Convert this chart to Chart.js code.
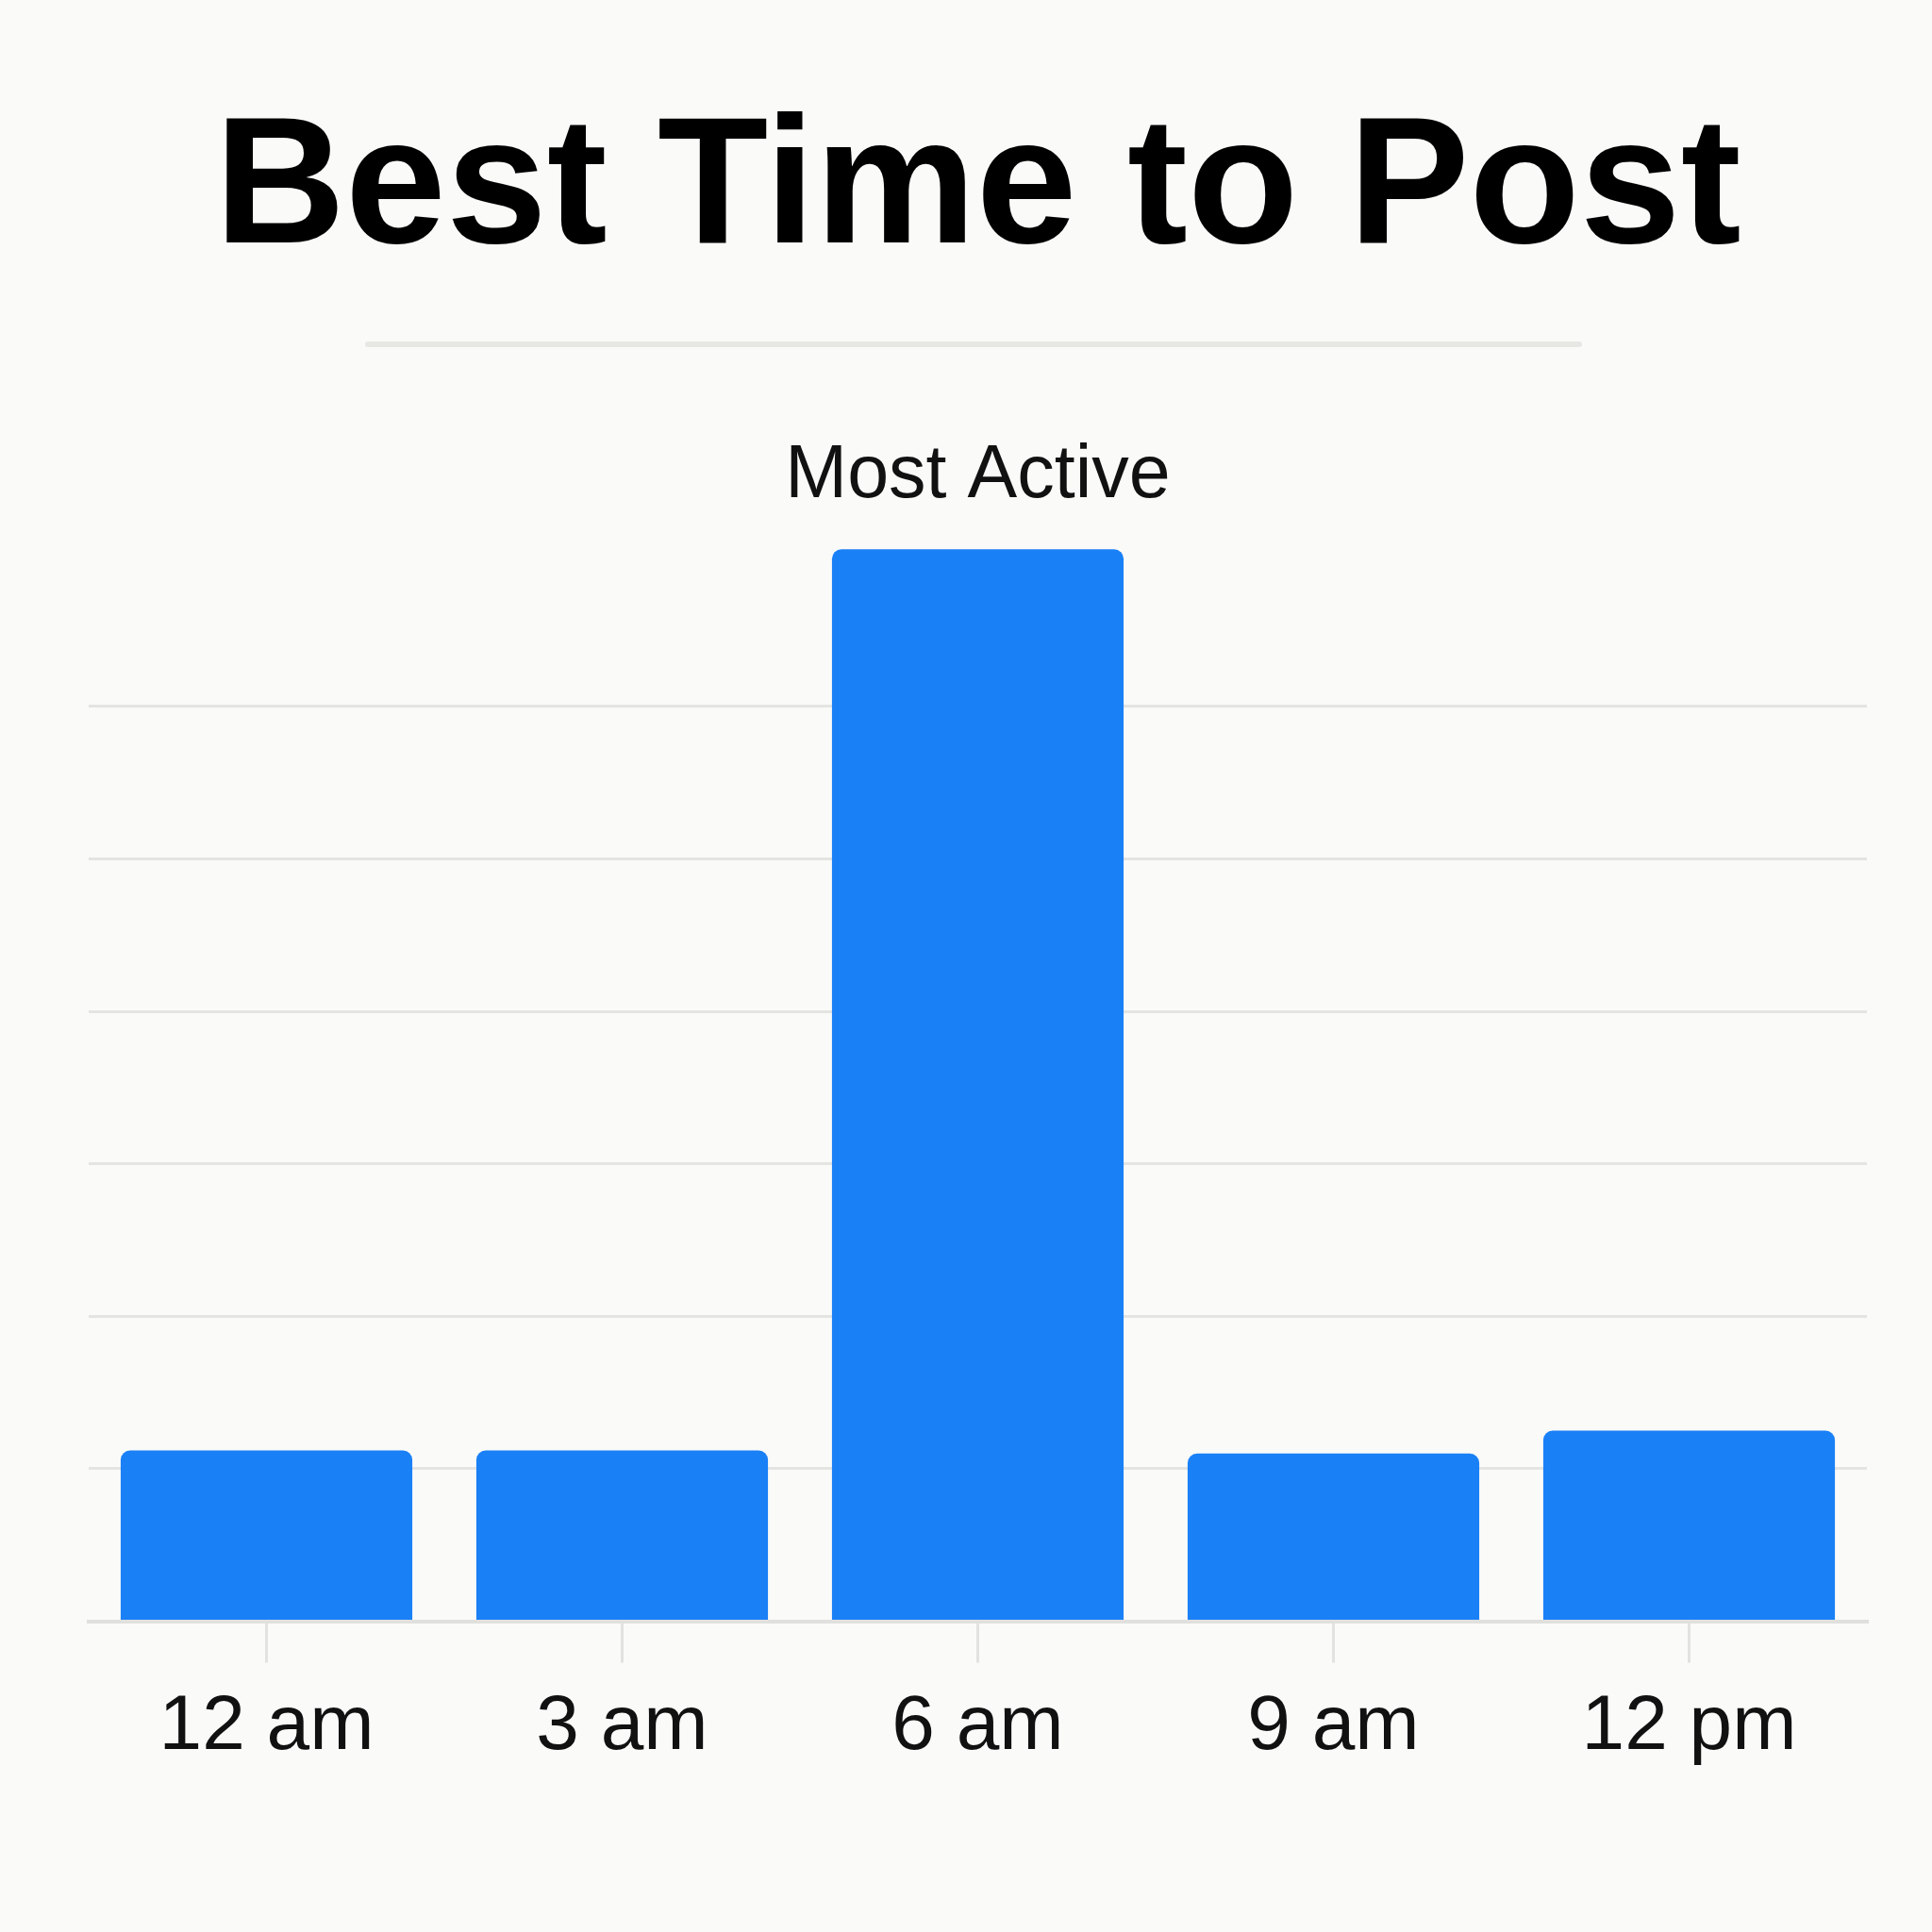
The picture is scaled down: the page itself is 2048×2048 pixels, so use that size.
<!DOCTYPE html>
<html>
<head>
<meta charset="utf-8">
<script src="https://cdn.jsdelivr.net/npm/chart.js@4.4.0/dist/chart.umd.min.js"></script>
<style>
  html, body { margin: 0; padding: 0; background: #fafaf8; }
  #wrap { width: 2048px; height: 2048px; }
</style>
</head>
<body>
<div id="wrap"><canvas id="postChart" width="2048" height="2048"></canvas></div>
<script>
// dados do gráfico
const hours = ['12 am', '3 am', '6 am', '9 am', '12 pm'];
const activity = [1.12, 1.12, 7.03, 1.1, 1.25];
const gridMax = 6;          // last gridline drawn
const chartTitle = 'Best Time to Post';
const peakLabel = 'Most Active';

const FONT = '"Liberation Sans", Arial, Helvetica, sans-serif';

// separator line under the title + label above the tallest bar
const extras = {
    id: 'extras',
    afterDraw(chart) {
        const ctx = chart.ctx;
        ctx.save();
        ctx.strokeStyle = '#e7e7e4';
        ctx.lineWidth = 6;
        ctx.lineCap = 'round';
        ctx.beginPath();
        ctx.moveTo(390, 365);
        ctx.lineTo(1674, 365);
        ctx.stroke();

        const peak = activity.indexOf(Math.max(...activity));
        const bar = chart.getDatasetMeta(0).data[peak];
        ctx.fillStyle = '#111111';
        ctx.font = '79px ' + FONT;
        ctx.textAlign = 'center';
        ctx.textBaseline = 'alphabetic';
        ctx.fillText(peakLabel, bar.x, bar.y - 55);
        ctx.restore();
    }
};

const ctx = document.getElementById('postChart').getContext('2d');
const postChart = new Chart(ctx, {
    type: 'bar',
    data: {
        labels: hours,
        datasets: [{
            label: 'Activity',
            data: activity,
            backgroundColor: '#1a80f6',
            borderRadius: { topLeft: 10, topRight: 10, bottomLeft: 0, bottomRight: 0 },
            borderSkipped: 'bottom',
            categoryPercentage: 0.82,
            barPercentage: 1
        }]
    },
    options: {
        responsive: false,
        animation: false,
        devicePixelRatio: 1,
        layout: {
            padding: { top: 0, left: 94, right: 69, bottom: 147 }
        },
        plugins: {
            legend: { display: false },
            tooltip: { enabled: false },
            title: {
                display: true,
                text: chartTitle,
                color: '#000000',
                font: { family: FONT, size: 192, weight: 'bold', lineHeight: 1.2 },
                padding: { top: 89, bottom: 187 }
            }
        },
        scales: {
            x: {
                offset: true,
                grid: {
                    offset: false,
                    drawOnChartArea: false,
                    drawTicks: true,
                    tickLength: 44,
                    color: '#e2e2e0',
                    lineWidth: 3
                },
                border: { display: true, color: '#e0e0de', width: 4 },
                ticks: {
                    color: '#111111',
                    padding: 20,
                    font: { family: FONT, size: 82, lineHeight: 1.2 }
                }
            },
            y: {
                min: 0,
                max: 7.5,
                ticks: { display: false, stepSize: 1 },
                border: { display: false },
                grid: {
                    drawTicks: false,
                    lineWidth: 3,
                    color: (c) => (c.tick && c.tick.value > 0 && c.tick.value <= gridMax) ? '#e4e4e2' : 'rgba(0,0,0,0)'
                }
            }
        }
    },
    plugins: [extras]
});
</script>
</body>
</html>
